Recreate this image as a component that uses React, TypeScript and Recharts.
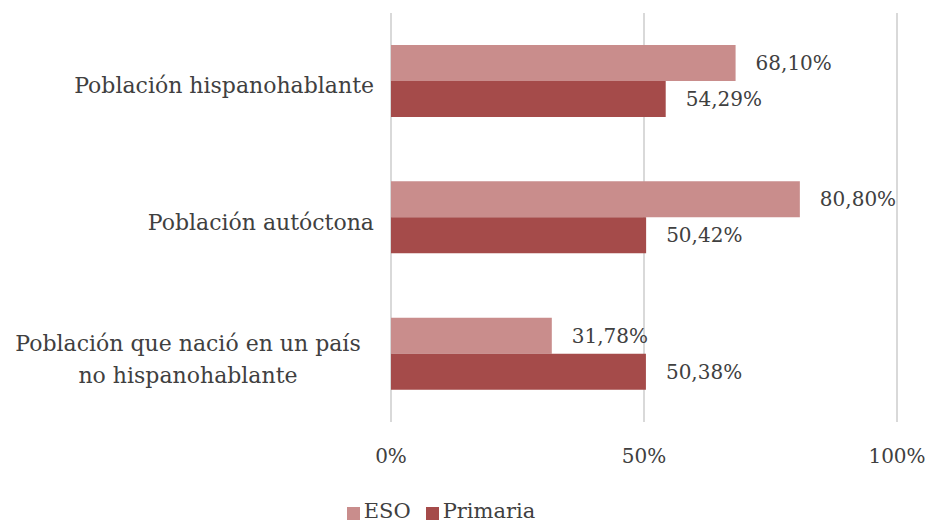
import {
  Bar,
  BarChart,
  CartesianGrid,
  LabelList,
  Legend,
  XAxis,
  YAxis,
} from "recharts";

const categories = [
  "Población hispanohablante",
  "Población autóctona",
  "Población que nació en un país|no hispanohablante",
];
const esoValues = [68.1, 80.8, 31.78];
const primariaValues = [54.29, 50.42, 50.38];
const xTicks = [0, 50, 100];

const data = categories.map((name, i) => ({
  name,
  eso: esoValues[i],
  primaria: primariaValues[i],
}));

const COLOR_ESO = "#c98d8c";
const COLOR_PRIMARIA = "#a54b4a";
const TEXT = "#404040";
const FONT = "DejaVu Serif";
const FS_NUM = 20;
const FS_TXT = 22;

const fmt = (v: unknown) => `${Number(v).toFixed(2).replace(".", ",")}%`;

function CategoryTick(props: any) {
  const { x, y, payload } = props;
  const lines = String(payload.value).split("|");
  if (lines.length === 1) {
    return (
      <text x={x - 9} y={y} dy={12} textAnchor="end" fill={TEXT} fontSize={FS_TXT} fontFamily={FONT}>
        {lines[0]}
      </text>
    );
  }
  const cx = x - 195;
  return (
    <text x={cx} y={y} textAnchor="middle" fill={TEXT} fontSize={FS_TXT} fontFamily={FONT}>
      {lines.map((l, i) => (
        <tspan key={i} x={cx} dy={i === 0 ? -3 : 32}>
          {l}
        </tspan>
      ))}
    </text>
  );
}

export default function App() {
  return (
    <div style={{ width: 928, height: 523, fontFamily: FONT }}>
      <style>{`body{margin:0}`}</style>
      <BarChart
        width={928}
        height={523}
        data={data}
        layout="vertical"
        margin={{ top: 13, right: 31, left: 0, bottom: 0 }}
        barSize={36}
        barGap={0}
      >
        <CartesianGrid horizontal={false} stroke="#d9d9d9" strokeWidth={2} />
        <XAxis
          type="number"
          domain={[0, 100]}
          ticks={xTicks}
          tickFormatter={(v: number) => `${v}%`}
          axisLine={false}
          tickLine={false}
          tickSize={0}
          tickMargin={27}
          height={77}
          tick={{ fontSize: FS_NUM, fill: TEXT, fontFamily: FONT }}
        />
        <YAxis
          type="category"
          dataKey="name"
          width={391}
          axisLine={false}
          tickLine={false}
          tick={<CategoryTick />}
        />
        <Legend
          verticalAlign="bottom"
          iconType="square"
          iconSize={13}
          formatter={(value: string) => (
            <span style={{ color: TEXT, fontSize: 21, fontFamily: FONT, marginRight: 5 }}>{value}</span>
          )}
        />
        <Bar dataKey="eso" name="ESO" fill={COLOR_ESO} isAnimationActive={false}>
          <LabelList
            dataKey="eso"
            position="right"
            offset={20}
            formatter={fmt}
            style={{ fontSize: FS_NUM, fill: TEXT, fontFamily: FONT }}
          />
        </Bar>
        <Bar dataKey="primaria" name="Primaria" fill={COLOR_PRIMARIA} isAnimationActive={false}>
          <LabelList
            dataKey="primaria"
            position="right"
            offset={20}
            formatter={fmt}
            style={{ fontSize: FS_NUM, fill: TEXT, fontFamily: FONT }}
          />
        </Bar>
      </BarChart>
    </div>
  );
}
